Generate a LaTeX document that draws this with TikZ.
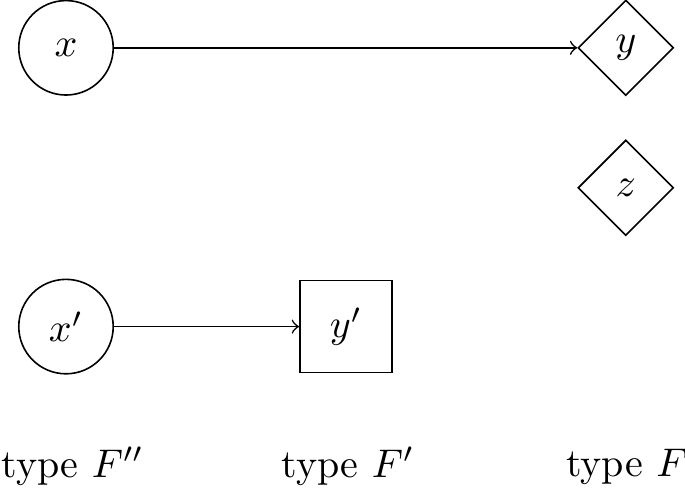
\documentclass[tikz,border=0pt]{standalone}
\usepackage{amsfonts, amsmath, amssymb}
\usetikzlibrary{shapes.geometric}

\begin{document}
\begin{tikzpicture}[>=to, roundbox/.style={
  % The shape:
  circle,
  % The size:
  minimum size=0.83cm, inner sep=0pt,
  % The border
  draw=black},
  diabox/.style={diamond, aspect=1, minimum size=0.84cm, inner sep=0pt, draw=black},
  sqbox/.style={rectangle, minimum size=0.81cm, inner sep=0pt, draw=black}]
  \useasboundingbox (0,0) rectangle (6.02,-4.29);
  \node [roundbox] (x) at (0.58,-0.42) {$x$};
  \node [diabox] (y) at (5.50,-0.42) {$y$};
  \node [diabox] (z) at (5.50,-1.65) {$z$};
  \node [roundbox] (xp) at (0.58,-2.87) {$x'$};
  \node [sqbox] (yp) at (3.04,-2.87) {$y'$};

  \node (typeFpp) at (0.64,-4.10) {type $F''$};
  \node (typeFp) at (3.06,-4.10) {type $F'$};
  \node (typeF) at (5.51,-4.10) {type $F$};

  \draw [->] (x) -- (y);
  \draw [->] (xp) -- (yp);

\end{tikzpicture}
\end{document}
